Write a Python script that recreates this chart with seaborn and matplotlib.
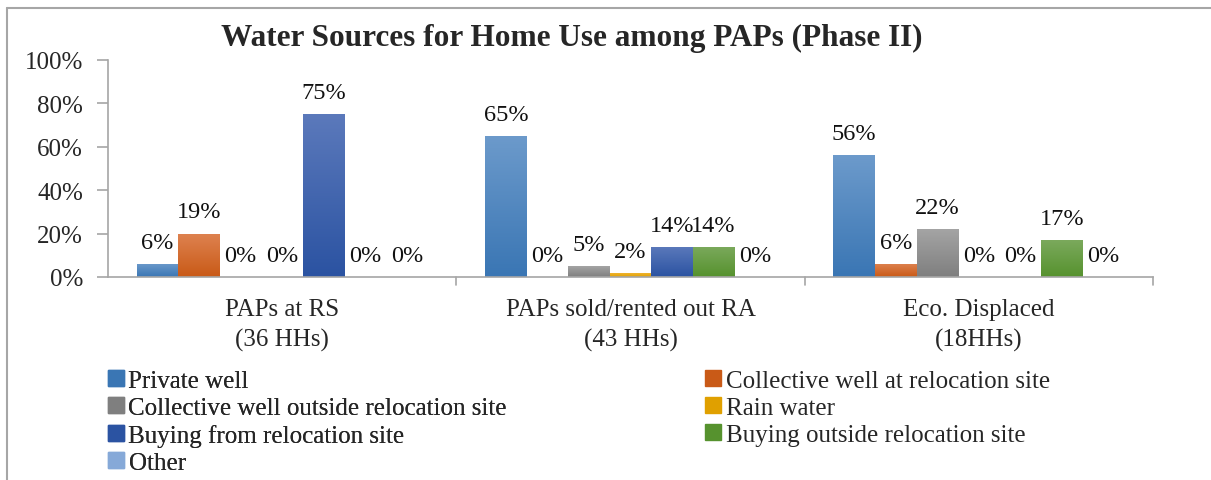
import numpy as np
import pandas as pd
import seaborn as sns
import matplotlib.pyplot as plt
from matplotlib.colors import LinearSegmentedColormap
from matplotlib.lines import Line2D

# Data
groups = ['PAPs at RS\n(36 HHs)', 'PAPs sold/rented out RA\n(43 HHs)', 'Eco. Displaced\n(18HHs)']
sources = ['Private well', 'Collective well at relocation site',
           'Collective well outside relocation site', 'Rain water',
           'Buying from relocation site', 'Buying outside relocation site', 'Other']
private_well = [6, 65, 56]
collective_rs = [19, 0, 6]
collective_outside = [0, 5, 22]
rain_water = [0, 2, 0]
buying_rs = [75, 14, 0]
buying_outside = [0, 14, 17]
other = [0, 0, 0]
# bar heights are drawn a touch off the rounded labels in the original
bar_heights = [private_well, [20, 0, 6], collective_outside, rain_water, buying_rs, buying_outside, other]
label_values = [private_well, collective_rs, collective_outside, rain_water, buying_rs, buying_outside, other]

# top / bottom gradient colours per series (Excel style)
top_colors = ['#6C9ACB', '#DE8250', '#A4A4A4', '#F2B83A', '#5B79BB', '#7BA95C', '#A9C6E8']
bottom_colors = ['#3A76B4', '#C95A17', '#7F7F7F', '#E0A000', '#2B53A2', '#56922E', '#86A9D8']

rows = []
for s, vals in zip(sources, bar_heights):
    for g, v in zip(groups, vals):
        rows.append({'group': g, 'source': s, 'value': v})
df = pd.DataFrame(rows)

sns.set_style('white')
plt.rcParams['font.family'] = ['Liberation Serif', 'DejaVu Serif']

W, H = 1211, 481
fig = plt.figure(figsize=(W / 100, H / 100), dpi=100)
ax = fig.add_axes([108 / W, 1 - 278 / H, (1153 - 108) / W, (278 - 61) / H])

palette = dict(zip(sources, bottom_colors))
sns.barplot(data=df, x='group', y='value', hue='source', order=groups, hue_order=sources,
            palette=palette, width=0.835, saturation=1, ax=ax, legend=False)

# gradient fill + data labels
for i, cont in enumerate(ax.containers):
    cmap = LinearSegmentedColormap.from_list(f'g{i}', [bottom_colors[i], top_colors[i]])
    grad = np.linspace(0, 1, 64).reshape(-1, 1)
    for bar, lab in zip(cont, label_values[i]):
        x0, y0 = bar.get_x(), bar.get_y()
        w, h = bar.get_width(), bar.get_height()
        bar.set_edgecolor('none')
        if h > 0:
            im = ax.imshow(grad, cmap=cmap, aspect='auto', origin='lower',
                           extent=(x0, x0 + w, y0, y0 + h), zorder=bar.get_zorder())
            im.set_clip_path(bar)
        ax.annotate(f'{lab}%', (x0 + w / 2, h), xytext=(0, 8), textcoords='offset points',
                    ha='center', va='bottom', fontsize=17.5, color='#111111')

ax.set_xlim(-0.5, 2.5)
ax.set_ylim(0, 100)
ax.set_yticks(range(0, 101, 20))
ax.set_yticklabels([f'{t}%' for t in range(0, 101, 20)], fontsize=18)
ax.set_xticks([0, 1, 2])
ax.set_xticklabels(groups, fontsize=18, linespacing=1.45)
ax.tick_params(axis='x', length=0, pad=15)
ax.tick_params(axis='y', length=8, width=1.2, color='#A6A6A6', pad=10, direction='out', left=True)
for b in [0.5, 1.5, 2.5]:
    ax.plot([b, b], [0, -3.8], color='#A6A6A6', lw=1.2, clip_on=False)
ax.set_xlabel('')
ax.set_ylabel('')
for side in ['top', 'right']:
    ax.spines[side].set_visible(False)
for side in ['left', 'bottom']:
    ax.spines[side].set_color('#A6A6A6')
    ax.spines[side].set_linewidth(1.2)

fig.text(572 / W, 1 - 38 / H, 'Water Sources for Home Use among PAPs (Phase II)',
         ha='center', va='center', fontsize=22.5, fontweight='bold')

# legend, two columns laid out row-major
handles = [plt.Rectangle((0, 0), 1, 1, color=c) for c in bottom_colors]
leg_kw = dict(loc='upper left', frameon=False, fontsize=18, handlelength=0.62,
              handleheight=0.62, handletextpad=0.2, labelspacing=0.2,
              borderpad=0, borderaxespad=0)
left_col = [0, 2, 4, 6]
right_col = [1, 3, 5]
leg1 = fig.legend([handles[k] for k in left_col], [sources[k] for k in left_col],
                  bbox_to_anchor=(108 / W, 1 - 371 / H), **leg_kw)
fig.legend([handles[k] for k in right_col], [sources[k] for k in right_col],
           bbox_to_anchor=(705 / W, 1 - 371 / H), **leg_kw)
fig.add_artist(leg1)

# chart frame (left and top edges visible)
fig.add_artist(Line2D([7 / W, 7 / W], [0, 1 - 9 / H], color='#A6A6A6', lw=1.5))
fig.add_artist(Line2D([7 / W, 1], [1 - 9 / H, 1 - 9 / H], color='#A6A6A6', lw=1.5))

fig.savefig('out.png', dpi=100)
